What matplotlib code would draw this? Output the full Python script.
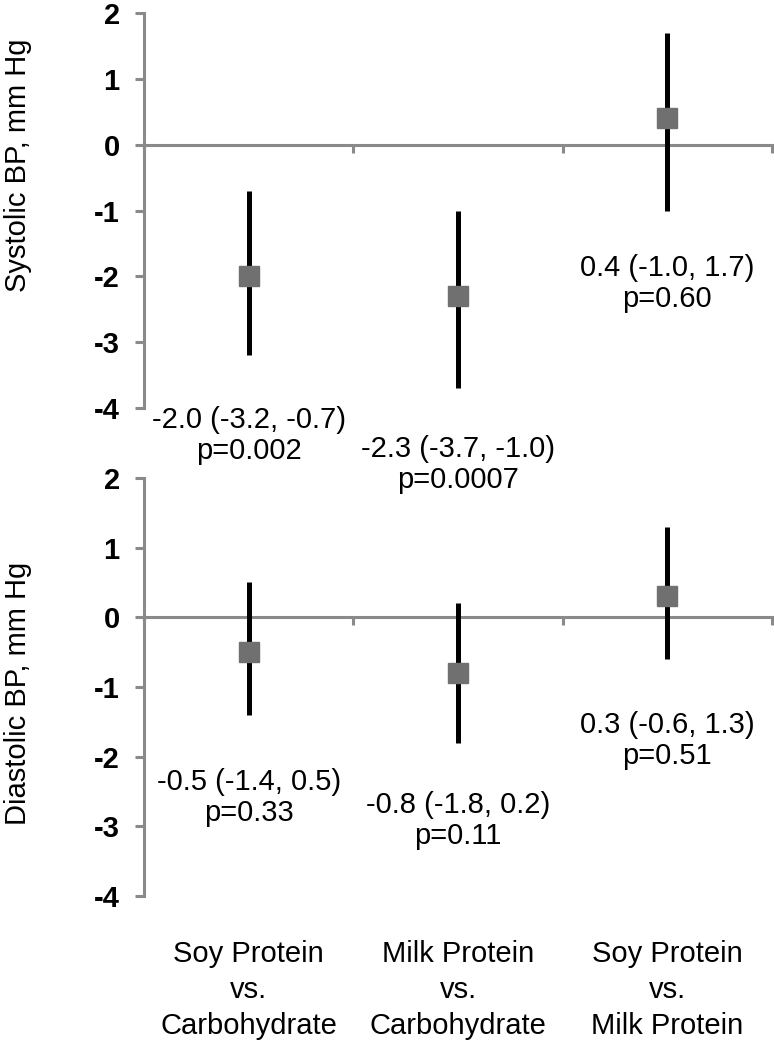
import matplotlib
matplotlib.use('Agg')
import matplotlib.pyplot as plt
import matplotlib.transforms as mtransforms

plt.rcParams["font.family"] = ["Liberation Sans", "DejaVu Sans"]
plt.rcParams["axes.unicode_minus"] = False

# comparisons (x categories)
categories = ['Soy Protein\nvs.\nCarbohydrate',
              'Milk Protein\nvs.\nCarbohydrate',
              'Soy Protein\nvs.\nMilk Protein']

# systolic BP: mean difference and 95% CI
sys_mean = [-2.0, -2.3, 0.4]
sys_low = [-3.2, -3.7, -1.0]
sys_high = [-0.7, -1.0, 1.7]
sys_p = ['0.002', '0.0007', '0.60']

# diastolic BP
dia_mean = [-0.5, -0.8, 0.3]
dia_low = [-1.4, -1.8, -0.6]
dia_high = [0.5, 0.2, 1.3]
dia_p = ['0.33', '0.11', '0.51']

# vertical placement of the annotation blocks (data units)
sys_label_y = [-4.42, -4.86, -2.11]
dia_label_y = [-2.59, -2.92, -1.77]

GRAY = '#8a8a8a'
MARK = '#707070'

fig = plt.figure(figsize=(7.74, 10.5), dpi=100)
ax1 = fig.add_axes([0.186, 0.6114, 0.8114, 0.3762], zorder=2)
ax2 = fig.add_axes([0.186, 0.1467, 0.8114, 0.3981], zorder=1)

xpos = [0.5, 1.5, 2.5]


def panel(ax, mean, low, high, pvals, label_y):
    ax.patch.set_visible(False)
    for x, m, lo, hi, p, ly in zip(xpos, mean, low, high, pvals, label_y):
        ax.plot([x, x], [lo, hi], color='black', lw=3.6, solid_capstyle='butt', zorder=3)
        ax.plot(x, m, marker='s', markersize=15, color=MARK, zorder=4)
        ax.text(x, ly, f'{m:.1f} ({lo:.1f}, {hi:.1f})\np={p}', ha='center', va='center',
                fontsize=21, linespacing=1.15, clip_on=False)
    ax.set_xlim(0, 3)
    ax.set_ylim(-4, 2)
    ax.set_yticks([-4, -3, -2, -1, 0, 1, 2])
    ax.set_xticks([0, 1, 2, 3])
    ax.set_xticklabels([])
    for s in ['top', 'right']:
        ax.spines[s].set_visible(False)
    ax.spines['bottom'].set_position(('data', 0))
    ax.spines['bottom'].set_color(GRAY)
    ax.spines['bottom'].set_linewidth(2.2)
    ax.spines['left'].set_color(GRAY)
    ax.spines['left'].set_linewidth(2.2)
    ax.tick_params(axis='y', direction='out', length=6.5, width=2.2, color=GRAY, pad=11,
                   labelsize=21)
    ax.tick_params(axis='x', direction='out', length=6, width=2.2, color=GRAY)
    for t in ax.get_yticklabels():
        t.set_fontweight('bold')


panel(ax1, sys_mean, sys_low, sys_high, sys_p, sys_label_y)
panel(ax2, dia_mean, dia_low, dia_high, dia_p, dia_label_y)

trans = mtransforms.blended_transform_factory(ax2.transData, ax2.transAxes)
for x, c in zip(xpos, categories):
    ax2.text(x, -0.225, c, transform=trans, ha='center', va='center', fontsize=21,
             linespacing=1.35, clip_on=False)

fig.text(0.023, 0.843, 'Systolic BP, mm Hg', rotation=90, ha='center', va='center', fontsize=21)
fig.text(0.023, 0.34, 'Diastolic BP, mm Hg', rotation=90, ha='center', va='center', fontsize=21)

fig.savefig('out.png', dpi=100)
